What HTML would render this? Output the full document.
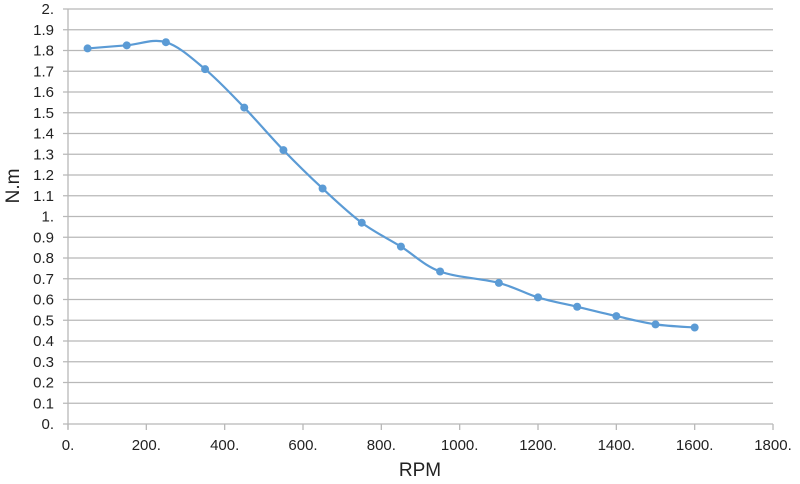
<!DOCTYPE html>
<html><head><meta charset="utf-8"><style>
body{margin:0;background:#fff;}
svg{display:block;font-family:"Liberation Sans",sans-serif;}
</style></head><body>
<svg id="s" width="800" height="484" xmlns="http://www.w3.org/2000/svg">
<g id="grid" stroke="#b8b8b8" stroke-width="1.3"></g>
<g id="lab" font-size="15" fill="#222"></g>
<text x="420" y="476" font-size="19" text-anchor="middle" fill="#222">RPM</text>
<text transform="translate(19,186) rotate(-90)" font-size="19" text-anchor="middle" fill="#222">N.m</text>
<polyline id="fb" fill="none" stroke="#5b9bd5" stroke-width="2.2" points="87.6,48.4 126.8,45.3 165.9,42.2 205.1,69.2 244.3,107.6 283.4,150.1 322.6,188.5 361.8,222.7 400.9,246.6 440.1,271.5 498.8,282.9 538,297.4 577.2,306.8 616.3,316.1 655.5,324.4 694.7,327.5"/>
<path id="curve" fill="none" stroke="#5b9bd5" stroke-width="2.2"/>
<g id="dots" fill="#5b9bd5"></g>
</svg>
<script>
var ns="http://www.w3.org/2000/svg";
function el(t,a,p,txt){var e=document.createElementNS(ns,t);for(var k in a)e.setAttribute(k,a[k]);if(txt!=null)e.textContent=txt;p.appendChild(e);return e;}
var X=function(v){return 68+v*0.39167},Y=function(v){return 424-v*207.5};
var g=document.getElementById('grid'),l=document.getElementById('lab');
for(var i=0;i<=20;i++){var y=Y(i/10);el('line',{x1:63,x2:773,y1:y,y2:y},g);
var s=(i%10==0)?(i/10)+'.':(i/10).toFixed(1);el('text',{x:54,y:y+5,'text-anchor':'end'},l,s);}
el('line',{x1:68,x2:68,y1:Y(2),y2:429},g);
for(var j=0;j<=9;j++){var x=X(j*200);el('line',{x1:x,x2:x,y1:424,y2:430},g);el('text',{x:x,y:450,'text-anchor':'middle'},l,(j*200)+'.');}
var d=[[50,1.81],[150,1.825],[250,1.84],[350,1.71],[450,1.525],[550,1.32],[650,1.135],[750,0.97],[850,0.855],[950,0.735],[1100,0.68],[1200,0.61],[1300,0.565],[1400,0.52],[1500,0.48],[1600,0.465]];
var P=d.map(function(p){return [X(p[0]),Y(p[1])]});
var s='M'+P[0][0]+','+P[0][1];
for(var k=0;k<P.length-1;k++){var p0=P[k-1]||P[k],p1=P[k],p2=P[k+1],p3=P[k+2]||P[k+1];
var c1=[p1[0]+(p2[0]-p0[0])/6,p1[1]+(p2[1]-p0[1])/6],c2=[p2[0]-(p3[0]-p1[0])/6,p2[1]-(p3[1]-p1[1])/6];
s+=' C'+c1+' '+c2+' '+p2;}
document.getElementById('curve').setAttribute('d',s);
document.getElementById('fb').setAttribute('display','none');
var dt=document.getElementById('dots');P.forEach(function(p){el('circle',{cx:p[0],cy:p[1],r:4},dt)});
</script>
</body></html>
